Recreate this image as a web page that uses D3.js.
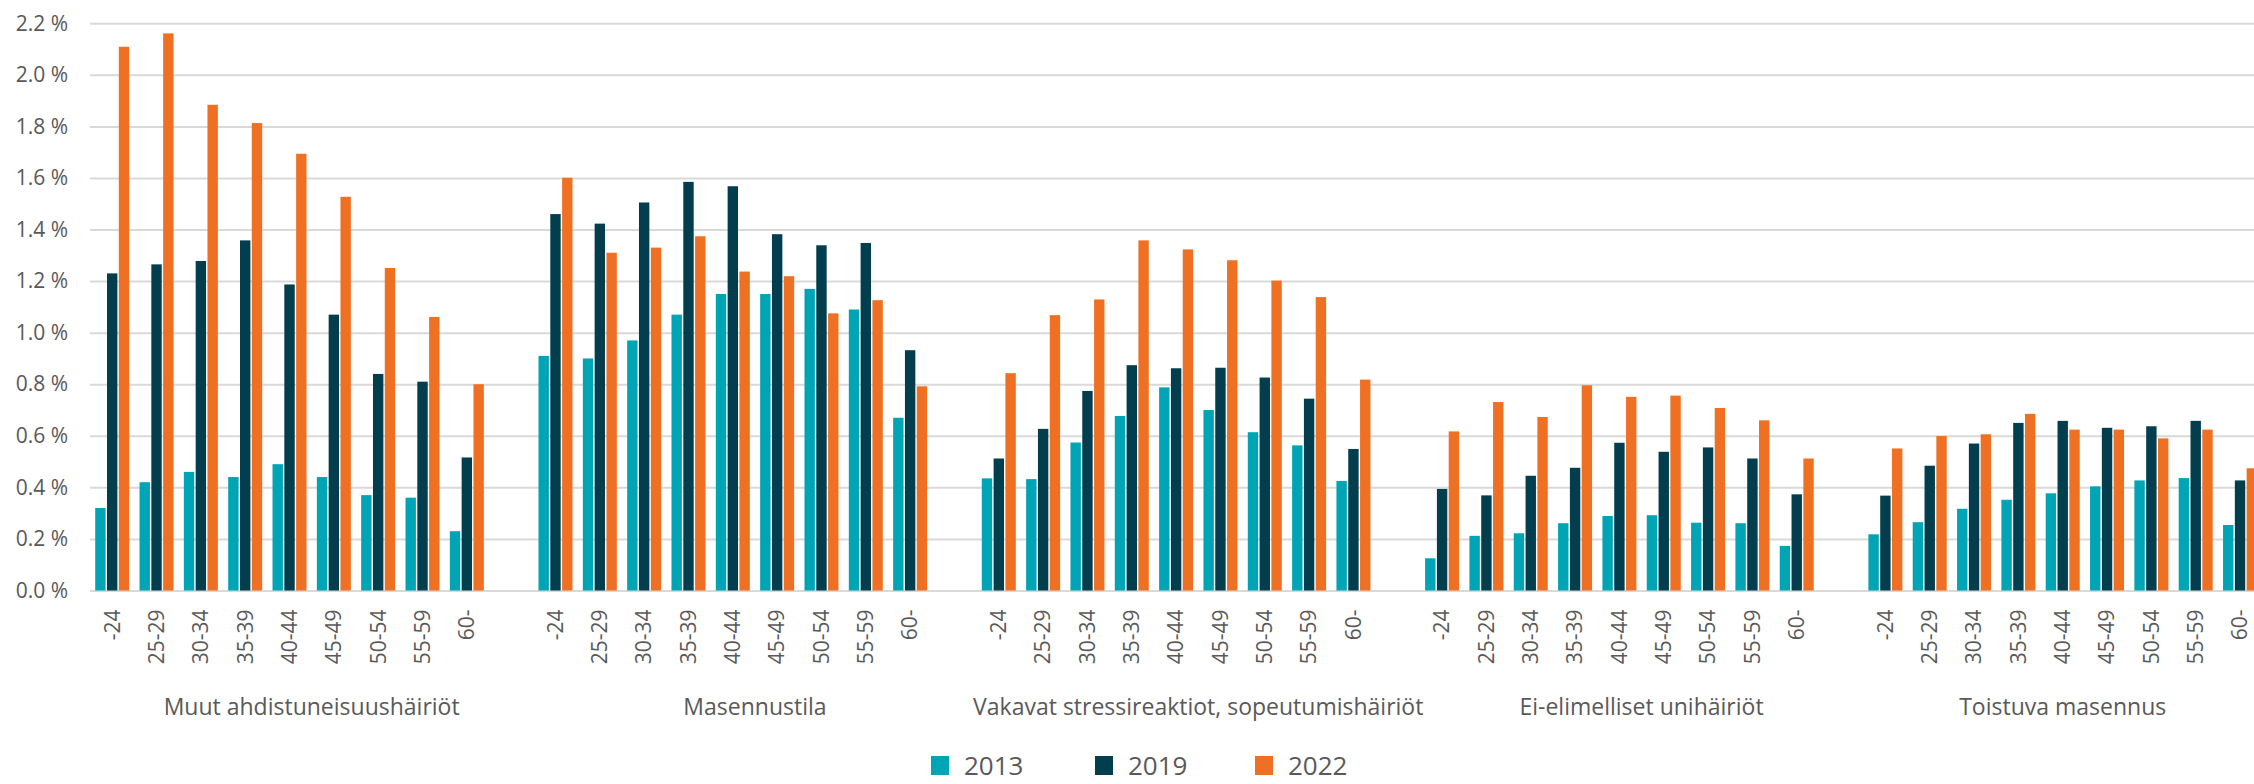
<!DOCTYPE html>
<meta charset="utf-8">
<script src="https://cdn.jsdelivr.net/npm/d3@7"></script>
<style>
	body{margin:0;background:#fff;}
	text{font-family:"Segoe UI","Open Sans",sans-serif;fill:#595959;}
	.domain{display:none;}
</style>
<div id="chart"></div>
<script>
var years = ["2013","2019","2022"]
var colors = ["#00a5b5","#023e4d","#ef7023"]
var groups = ["Muut ahdistuneisuushäiriöt","Masennustila","Vakavat stressireaktiot, sopeutumishäiriöt","Ei-elimelliset unihäiriöt","Toistuva masennus"]
var ages = ["-24","25-29","30-34","35-39","40-44","45-49","50-54","55-59","60-"]
var yTicks = [0,0.2,0.4,0.6,0.8,1.0,1.2,1.4,1.6,1.8,2.0,2.2]

// percent values, 9 age bands per group, groups in order above
var v2013 = [0.32,0.42,0.46,0.44,0.49,0.44,0.37,0.36,0.23,
	0.91,0.90,0.97,1.07,1.15,1.15,1.17,1.09,0.67,
	0.435,0.432,0.574,0.677,0.788,0.70,0.614,0.563,0.425,
	0.125,0.212,0.222,0.261,0.289,0.292,0.263,0.261,0.173,
	0.218,0.265,0.317,0.352,0.377,0.404,0.427,0.436,0.254]
var v2019 = [1.23,1.265,1.278,1.358,1.187,1.07,0.84,0.81,0.516,
	1.46,1.423,1.505,1.585,1.568,1.382,1.339,1.348,0.932,
	0.512,0.627,0.774,0.874,0.862,0.864,0.826,0.744,0.549,
	0.394,0.369,0.445,0.476,0.573,0.538,0.555,0.512,0.373,
	0.368,0.484,0.570,0.650,0.658,0.631,0.637,0.658,0.427]
var v2022 = [2.109,2.161,1.884,1.813,1.694,1.527,1.251,1.061,0.80,
	1.601,1.31,1.33,1.374,1.237,1.219,1.075,1.126,0.792,
	0.843,1.068,1.129,1.358,1.323,1.281,1.202,1.138,0.818,
	0.617,0.731,0.673,0.796,0.751,0.756,0.708,0.66,0.512,
	0.551,0.599,0.606,0.685,0.624,0.624,0.59,0.624,0.474]

var series = [v2013,v2019,v2022]

var W = 2254, H = 784
var x0 = 90, band = 44.33
var y0 = 590.5, yTop = 23.3

// build slots: each group of ages followed by a blank slot (not after the last)
var slots = []
groups.forEach(function(g,gi){
	ages.forEach(function(a,ai){
		var k = gi*ages.length+ai
		slots.push({id:slots.length,group:gi,age:a,vals:series.map(function(s){return s[k]})})
	})
	if(gi<groups.length-1) slots.push({id:slots.length,group:gi,age:"",vals:null})
})

var svg = d3.select("#chart").append("svg")
	.attr("width",W).attr("height",H)

var xScale = d3.scaleBand().domain(slots.map(function(d){return d.id}))
	.range([x0,x0+slots.length*band]).padding(0)
var xInner = d3.scaleBand().domain(years).range([5.2,5.2+34]).paddingInner(0.12)
var yScale = d3.scaleLinear().domain([0,2.2]).range([y0,yTop])

// y axis with gridlines
var yAxis = d3.axisLeft(yScale).tickValues(yTicks)
	.tickFormat(function(d){return d.toFixed(1)+" %"})
	.tickSize(-(W-x0)).tickPadding(22)
var gy = svg.append("g").attr("transform","translate("+x0+",0)").call(yAxis)
gy.selectAll("line").attr("stroke","#d9d9d9").attr("stroke-width",2)
gy.selectAll("text").style("font-size","21px").attr("fill","#595959")

// bars
var cols = svg.append("g").selectAll("g")
	.data(slots.filter(function(d){return d.vals}))
	.enter().append("g")
	.attr("transform",function(d){return "translate("+xScale(d.id)+",0)"})
cols.selectAll("rect")
	.data(function(d){return d.vals.map(function(v,i){return {year:years[i],v:v,i:i}})})
	.enter().append("rect")
	.attr("x",function(d){return xInner(d.year)})
	.attr("width",xInner.bandwidth())
	.attr("y",function(d){return yScale(d.v)})
	.attr("height",function(d){return y0-yScale(d.v)})
	.attr("fill",function(d){return colors[d.i]})

// x axis: age labels
var xAxis = d3.axisBottom(xScale).tickSize(0)
	.tickFormat(function(id){return slots[id].age})
var gx = svg.append("g").attr("transform","translate(0,"+y0+")").call(xAxis)
gx.selectAll("text")
	.style("font-size","21px")
	.attr("fill","#595959")
	.attr("text-anchor","end")
	.attr("transform","translate(0,19) rotate(-90)")
	.attr("x",0).attr("y",0).attr("dy","0.35em")

// group labels centred on their slots
svg.append("g").selectAll("text")
	.data(groups)
	.enter().append("text")
	.attr("x",function(g,gi){
		var ids = slots.filter(function(s){return s.group==gi}).map(function(s){return s.id})
		return (xScale(ids[0])+xScale(ids[ids.length-1])+band)/2
	})
	.attr("y",715)
	.attr("text-anchor","middle")
	.style("font-size","23px")
	.text(function(g){return g})

// legend
var leg = svg.append("g").selectAll("g")
	.data(years).enter().append("g")
	.attr("transform",function(d,i){return "translate("+[931,1095,1255][i]+",756)"})
leg.append("rect").attr("width",18).attr("height",19)
	.attr("fill",function(d,i){return colors[i]})
leg.append("text").attr("x",33).attr("y",19)
	.style("font-size","26px").text(function(d){return d})
</script>
